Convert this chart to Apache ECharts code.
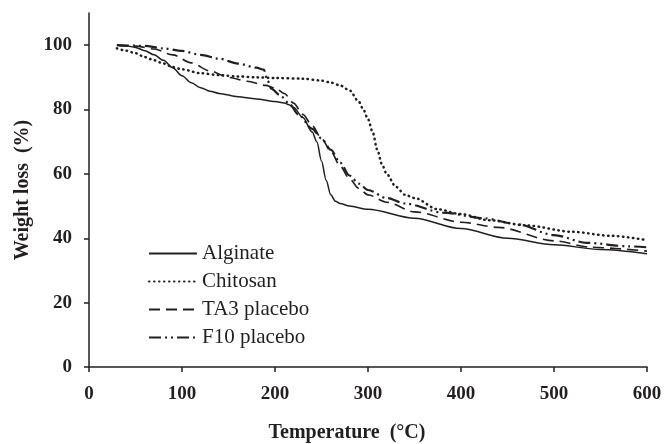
<!DOCTYPE html>
<html>
<head>
<meta charset="utf-8">
<script src="https://cdn.jsdelivr.net/npm/echarts@6/dist/echarts.min.js"></script>
<style>
  html, body { margin: 0; padding: 0; background: #fff; }
  #chart { width: 666px; height: 444px; }
</style>
</head>
<body>
<div id="chart"></div>
<script>
// thermogravimetric curves: [temperature, weight %]
var alginate = [
  [30,100],[40,99.8],[50,99.3],[60,98.3],[70,97],[80,95.3],[90,93],[100,90.5],
  [110,88.3],[120,86.8],[130,85.7],[140,85],[160,84],[180,83.3],[200,82.5],
  [210,82],[215,81.5],[220,80.6],[230,77.5],[240,73],[245,70],[250,64],[255,58],
  [260,53.5],[265,51.5],[270,50.8],[280,50],[300,49],[350,46.2],[400,43],
  [450,40],[500,38],[550,36.5],[600,35.2]
];
var chitosan = [
  [30,99],[40,98.3],[50,97.5],[60,96.3],[70,95.3],[80,94.3],[90,93.2],[100,92.5],
  [120,91.3],[140,90.7],[160,90.3],[180,90],[200,89.8],[230,89.6],[250,89],
  [260,88.4],[270,87.5],[280,86],[290,82.5],[295,80],[300,77],[305,73],[310,67.5],
  [315,63],[320,60],[330,56],[340,53.5],[350,52.5],[375,49],[400,47.5],[430,45.6],
  [470,44],[520,42],[560,40.8],[600,39.4]
];
var ta3 = [
  [30,100],[50,99.7],[70,98.8],[90,97],[110,94.5],[130,92],[150,90],[170,88.8],
  [190,87.5],[200,86.7],[210,85],[220,82],[230,78.5],[240,75],[250,71],[260,67],
  [270,62.5],[280,58.5],[290,55.5],[300,53.5],[320,51.2],[350,48.2],[400,45],
  [440,43.4],[500,39.2],[540,37.2],[600,36]
];
var f10 = [
  [30,100],[60,99.8],[80,99],[100,98.2],[120,97],[140,95.8],[160,94.3],[180,93],
  [188,92.4],[192,89],[196,86.5],[205,84.5],[215,82],[225,78.5],[240,74],[250,71],
  [260,67.5],[270,63.5],[280,59.5],[290,57],[300,55],[320,52.5],[340,50.8],
  [380,48],[425,46.2],[460,44.4],[500,41],[535,38.6],[580,37.5],[600,37.2]
];
var seriesNames = ['Alginate', 'Chitosan', 'TA3 placebo', 'F10 placebo'];
var xTicks = [0, 100, 200, 300, 400, 500, 600];
var yTicks = [0, 20, 40, 60, 80, 100];

var ink = '#231f20';
var chart = echarts.init(document.getElementById('chart'));

function curve(name, data, width, dash, cap) {
  return {
    name: name,
    type: 'line',
    data: data,
    showSymbol: false,
    symbol: 'none',
    smooth: 0.3,
    smoothMonotone: 'x',
    lineStyle: { color: ink, width: width, type: dash, cap: cap || 'butt' },
    itemStyle: { color: ink }
  };
}

var option = {
  animation: false,
  backgroundColor: '#fff',
  grid: { left: 89, right: 19, top: 13, bottom: 77, outerBoundsMode: 'none' },
  legend: {
    orient: 'vertical',
    left: 143,
    top: 238,
    itemWidth: 48,
    itemHeight: 14,
    itemGap: 7,
    itemStyle: { opacity: 0 },
    data: seriesNames,
    textStyle: { fontFamily: 'Liberation Serif', fontSize: 21, color: ink }
  },
  xAxis: {
    type: 'value',
    min: 0, max: 600, interval: 100,
    name: 'Temperature  (\u00b0C)',
    nameLocation: 'middle',
    nameGap: 56,
    nameTextStyle: { fontFamily: 'Liberation Serif', fontWeight: 'bold', fontSize: 20, color: ink, padding: [0, 42, 0, 0] },
    axisLine: { lineStyle: { color: ink, width: 1.5 } },
    axisTick: { show: true, inside: false, length: 5, lineStyle: { color: ink, width: 1.5 } },
    splitLine: { show: false },
    axisLabel: { margin: 18, fontFamily: 'Liberation Serif', fontWeight: 'bold', fontSize: 19, color: ink,
      customValues: xTicks }
  },
  yAxis: {
    type: 'value',
    min: 0, max: 110, interval: 20,
    name: 'Weight loss  (%)',
    nameLocation: 'middle',
    nameGap: 56,
    nameTextStyle: { fontFamily: 'Liberation Serif', fontWeight: 'bold', fontSize: 20, color: ink },
    axisLine: { show: true, lineStyle: { color: ink, width: 1.5 } },
    axisTick: { show: true, length: 5, lineStyle: { color: ink, width: 1.5 }, customValues: yTicks },
    splitLine: { show: false },
    axisLabel: {
      margin: 17, fontFamily: 'Liberation Serif', fontWeight: 'bold', fontSize: 19, color: ink,
      customValues: yTicks
    }
  },
  series: [
    curve(seriesNames[0], alginate, 1.5, 'solid'),
    curve(seriesNames[1], chitosan, 2.5, [0.5, 4.5], 'round'),
    curve(seriesNames[2], ta3, 1.6, [11, 6]),
    curve(seriesNames[3], f10, 2.2, [12, 4, 2, 4, 2, 4])
  ]
};
chart.setOption(option);
</script>
</body>
</html>
